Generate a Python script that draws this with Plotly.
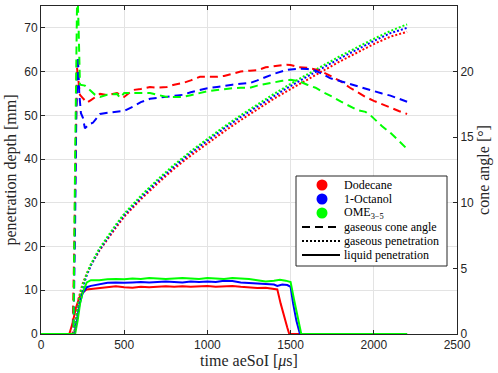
import plotly.graph_objects as go

# ---------------- data ----------------
# gaseous cone angle [deg] (right axis)
t_cone_dod = [0, 190, 200, 210, 216, 225, 234, 250, 276, 300, 355, 400, 457, 500, 553, 600, 655, 700, 757, 800,
              853, 900, 955, 1000, 1058, 1100, 1150, 1200, 1256, 1300, 1350, 1400, 1476, 1500, 1550, 1600, 1650,
              1700, 1750, 1800, 1857, 1900, 1950, 2000, 2050, 2100, 2150, 2200]
cone_dod = [0, 0, 6.67, 15, 20.33, 19.33, 18.23, 18, 17.63, 17.83, 18.3, 18.2, 18.37, 18.07, 18.6, 18.67, 18.83,
            18.77, 18.83, 19, 19.13, 19.33, 19.6, 19.6, 19.6, 19.67, 19.83, 20, 20.07, 20.1, 20.33, 20.4, 20.53,
            20.5, 20.33, 20.3, 20.17, 19.93, 19.6, 19.27, 18.77, 18.43, 18.07, 17.77, 17.5, 17.27, 17, 16.77]

t_cone_oct = [0, 195, 205, 212, 222, 230, 240, 252, 264, 290, 312, 355, 400, 457, 500, 553, 600, 655, 700, 757,
              800, 853, 900, 955, 1000, 1058, 1100, 1150, 1200, 1256, 1300, 1350, 1400, 1476, 1500, 1550, 1600,
              1650, 1700, 1737, 1800, 1850, 1935, 2000, 2050, 2100, 2140, 2200]
cone_oct = [0, 0, 8.33, 16.67, 21.13, 18.33, 16.83, 16.47, 15.67, 16, 16.1, 16.77, 16.87, 16.93, 17, 17.33, 17.67,
            17.93, 18, 18.07, 18.17, 18.23, 18.43, 18.6, 18.73, 18.83, 18.93, 19, 19.07, 19.13, 19.33, 19.6, 19.83,
            20.13, 20.17, 20.23, 20.2, 20.07, 19.77, 19.5, 19.27, 19.07, 18.77, 18.5, 18.33, 18.17, 18, 17.7]

t_cone_ome = [0, 195, 205, 212, 218, 226, 234, 264, 300, 325, 355, 397, 457, 475, 500, 553, 600, 655, 700, 757,
              800, 853, 900, 955, 1000, 1058, 1100, 1150, 1200, 1256, 1300, 1350, 1400, 1450, 1500, 1550, 1600,
              1650, 1700, 1750, 1800, 1857, 1900, 1950, 1980, 2050, 2100, 2150, 2200]
cone_ome = [0, 0, 13.33, 26.67, 26.67, 23.33, 19, 18.93, 18.5, 18.23, 18.07, 18.23, 18.3, 18, 18.37, 18.37, 18.37,
            18.37, 18.23, 18.07, 18.07, 18.07, 18.2, 18.37, 18.5, 18.6, 18.67, 18.73, 18.77, 18.77, 18.93, 19.07,
            19.2, 19.3, 19.37, 19.27, 19, 18.77, 18.4, 18.1, 17.73, 17.33, 17.07, 16.93, 16.67, 15.83, 15.33,
            14.73, 14.1]

# gaseous penetration [mm] (left axis)
t_gas = [0, 200, 225, 250, 275, 300, 350, 400, 450, 500, 600, 700, 800, 900, 1000, 1100, 1200, 1300, 1400, 1500,
         1600, 1700, 1800, 1900, 2000, 2100, 2200]
gas_dod = [0, 0, 8, 11.5, 13.8, 15.8, 19, 21.8, 24.3, 26.8, 30.8, 34.4, 37.8, 40.8, 43.6, 46.3, 48.9, 51.4, 53.8,
           56, 58.2, 60.3, 62.4, 64.4, 66.3, 68, 69.1]
gas_oct = [0, 0, 6.5, 10.6, 13.4, 15.7, 19.2, 22.1, 24.7, 27.2, 31.2, 34.9, 38.3, 41.4, 44.3, 47, 49.6, 52.1, 54.4,
           56.7, 58.9, 61, 63.1, 65.1, 67, 68.8, 70]
gas_ome = [0, 0, 7.5, 11.2, 13.8, 16, 19.5, 22.4, 25, 27.5, 31.6, 35.3, 38.7, 41.8, 44.7, 47.4, 50, 52.5, 54.9,
           57.2, 59.4, 61.5, 63.6, 65.6, 67.5, 69.3, 70.8]

# liquid penetration [mm] (left axis)
t_liq_dod = [0, 170, 190, 210, 230, 250, 275, 300, 350, 400, 450, 500, 550, 600, 650, 700, 750, 800, 850, 900, 950,
             1000, 1050, 1100, 1150, 1200, 1250, 1300, 1350, 1400, 1420, 1440, 1460, 1480, 1492, 1550, 2200]
liq_dod = [0, 0, 2.5, 6, 8.3, 9.5, 10.2, 10.3, 10.5, 10.8, 10.9, 10.7, 10.6, 10.8, 10.7, 10.8, 10.9, 10.8, 10.9,
           10.8, 10.9, 11, 10.8, 10.9, 11, 10.8, 10.6, 10.5, 10.6, 10.4, 10.2, 7, 4, 1.5, 0, 0, 0]

t_liq_oct = [0, 200, 215, 230, 250, 275, 300, 350, 400, 450, 500, 550, 600, 650, 700, 750, 800, 850, 900, 950,
             1000, 1050, 1100, 1150, 1200, 1250, 1300, 1350, 1400, 1420, 1450, 1480, 1500, 1515, 1535, 1556, 2200]
liq_oct = [0, 0, 3, 6.5, 9.3, 10.7, 11, 11.3, 11.7, 11.8, 11.7, 11.8, 11.9, 11.8, 11.9, 12, 11.9, 11.8, 12, 11.9,
           12, 11.9, 12.2, 12.1, 11.8, 11.7, 11.6, 11.5, 11.3, 11, 11.3, 11.2, 10.8, 7, 3, 0, 0]

t_liq_ome = [0, 205, 220, 235, 250, 275, 300, 350, 400, 450, 500, 550, 600, 650, 700, 750, 800, 850, 900, 950,
             1000, 1050, 1100, 1150, 1200, 1250, 1300, 1350, 1400, 1436, 1470, 1500, 1520, 1542, 1564, 2200]
liq_ome = [0, 0, 3, 7, 9.5, 11.8, 12.3, 12.3, 12.5, 12.6, 12.5, 12.7, 12.6, 12.8, 12.7, 12.6, 12.7, 12.8, 12.7,
           12.6, 12.8, 12.7, 12.6, 12.8, 12.7, 12.6, 12.3, 12, 12.2, 12.4, 12.2, 11.9, 8, 4, 0, 0]

fuels = ["Dodecane", "1-Octanol", "OME<sub>3\u22125</sub>"]
colors = ["#ff0000", "#0000ff", "#00ff00"]
styles = ["gaseous cone angle", "gaseous penetration", "liquid penetration"]

x_ticks = [0, 500, 1000, 1500, 2000, 2500]
y_ticks = [0, 10, 20, 30, 40, 50, 60, 70]
y2_ticks = [0, 5, 10, 15, 20, 25]

# ---------------- figure ----------------
W, H = 498, 373
ML, MR, MT, MB = 41, 41, 6, 39
PW, PH = W - ML - MR, H - MT - MB


def px(x):
    return (x - ML) / PW


def py(y):
    return (H - MB - y) / PH


fig = go.Figure()
LW = 2
DASH = "8px,5px"
DOT = "2px,2px"

cone = [(t_cone_dod, cone_dod), (t_cone_oct, cone_oct), (t_cone_ome, cone_ome)]
gas = [gas_dod, gas_oct, gas_ome]
liq = [(t_liq_dod, liq_dod), (t_liq_oct, liq_oct), (t_liq_ome, liq_ome)]

for i in range(3):
    fig.add_trace(go.Scatter(x=liq[i][0], y=liq[i][1], mode="lines", name=fuels[i] + " liquid penetration",
                             showlegend=False, line=dict(color=colors[i], width=LW), yaxis="y"))
for i in range(3):
    fig.add_trace(go.Scatter(x=t_gas, y=gas[i], mode="lines", name=fuels[i] + " gaseous penetration",
                             showlegend=False, line=dict(color=colors[i], width=LW, dash=DOT), yaxis="y"))
for i in range(3):
    fig.add_trace(go.Scatter(x=cone[i][0], y=cone[i][1], mode="lines", name=fuels[i] + " gaseous cone angle",
                             showlegend=False, line=dict(color=colors[i], width=LW, dash=DASH), yaxis="y2"))

axis_col = "#262626"
grid_col = "#e3e3e3"
tick_font = dict(family="Liberation Sans, Arial, sans-serif", size=12, color=axis_col)
title_font = dict(family="Liberation Serif, Times New Roman, serif", size=16, color=axis_col)
leg_font = dict(family="Liberation Serif, Times New Roman, serif", size=12, color="black")

# ----- compact legend box (MATLAB style) -----
shapes = [dict(type="rect", xref="paper", yref="paper", x0=px(296), x1=px(447), y0=py(266), y1=py(176),
               line=dict(color=axis_col, width=1), fillcolor="white", layer="above")]
annotations = []
row_y = [185, 199, 213, 227, 241, 255]
for i in range(3):
    cy = py(row_y[i])
    shapes.append(dict(type="circle", xref="paper", yref="paper", xsizemode="pixel", ysizemode="pixel",
                       xanchor=px(322), yanchor=cy, x0=-5.5, x1=5.5, y0=-5.5, y1=5.5,
                       fillcolor=colors[i], line=dict(color=colors[i], width=0), layer="above"))
    annotations.append(dict(x=px(343), y=cy, xref="paper", yref="paper", text=fuels[i], showarrow=False,
                            xanchor="left", yanchor="middle", font=leg_font, borderpad=0))
for j, d in enumerate([DASH, DOT, "solid"]):
    cy = py(row_y[3 + j])
    shapes.append(dict(type="line", xref="paper", yref="paper", x0=px(302), x1=px(340), y0=cy, y1=cy,
                       line=dict(color="black", width=LW, dash=d), layer="above"))
    annotations.append(dict(x=px(343), y=cy, xref="paper", yref="paper", text=styles[j], showarrow=False,
                            xanchor="left", yanchor="middle", font=leg_font, borderpad=0))

fig.update_layout(
    width=W, height=H,
    margin=dict(l=ML, r=MR, t=MT, b=MB),
    paper_bgcolor="white", plot_bgcolor="white",
    showlegend=False,
    shapes=shapes, annotations=annotations,
    xaxis=dict(range=[0, 2500], tickvals=x_ticks, showgrid=True, gridcolor=grid_col, zeroline=False,
               showline=True, linecolor=axis_col, linewidth=1, mirror="ticks", ticks="inside", ticklen=4,
               tickcolor=axis_col, tickfont=tick_font,
               title=dict(text="time aeSoI [<i>\u03bc</i>s]", font=title_font, standoff=2)),
    yaxis=dict(range=[0, 75], tickvals=y_ticks, showgrid=True, gridcolor=grid_col, zeroline=False,
               showline=True, linecolor=axis_col, linewidth=1, ticks="inside", ticklen=4,
               tickcolor=axis_col, tickfont=tick_font,
               title=dict(text="penetration depth [mm]", font=title_font, standoff=3)),
    yaxis2=dict(range=[0, 25], tickvals=y2_ticks, overlaying="y", side="right", showgrid=False,
                zeroline=False, showline=True, linecolor=axis_col, linewidth=1, ticks="inside", ticklen=4,
                tickcolor=axis_col, tickfont=tick_font,
                title=dict(text="cone angle [\u00b0]", font=title_font, standoff=4)),
)

fig.write_html("out.html", config={"displayModeBar": False},
               post_script="document.body.style.margin='0px';")
